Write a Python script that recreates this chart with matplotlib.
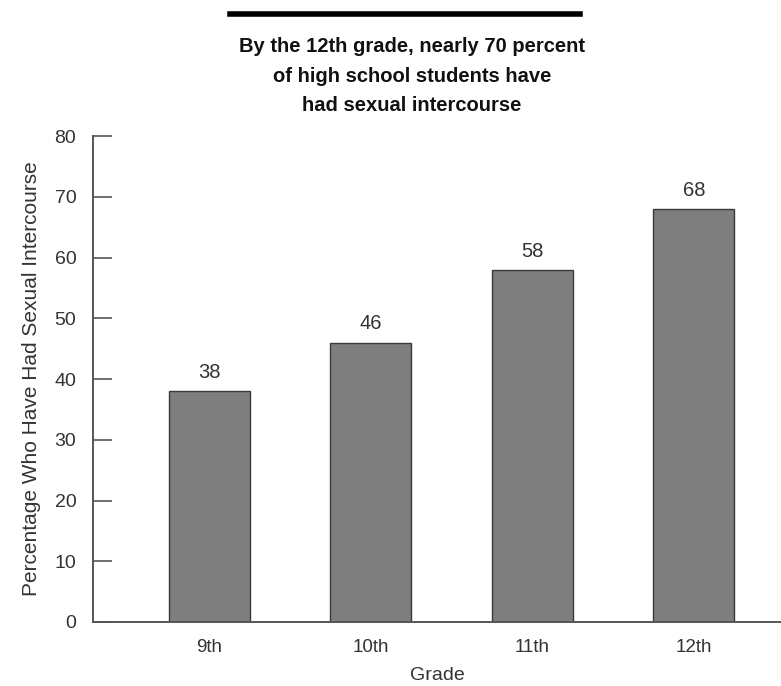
import matplotlib.pyplot as plt
import numpy as np

grades = ['9th', '10th', '11th', '12th']
percent = [38, 46, 58, 68]
yticks = [0, 10, 20, 30, 40, 50, 60, 70, 80]

plt.rcParams['font.family'] = ['Liberation Sans', 'DejaVu Sans']

fig = plt.figure(figsize=(7.81, 6.86), dpi=100)
ax = fig.add_axes([0.119, 0.0933, 0.881, 0.7084])

x = np.arange(len(grades))
ax.bar(x, percent, width=0.5, color='#7e7e7e', edgecolor='#3a3a3a', linewidth=1.0)
for xi, v in zip(x, percent):
    ax.text(xi, v + 1.5, str(v), ha='center', va='bottom', fontsize=14.5, color='#333333')

ax.set_xlim(-0.72, 3.54)
ax.set_ylim(0, 80)
ax.set_yticks(yticks)
ax.set_xticks(x)
ax.set_xticklabels(grades, fontsize=13.5, color='#333333')
ax.tick_params(axis='y', direction='in', length=14, width=1.2, color='#555555',
               labelsize=14, labelcolor='#333333', pad=12)
ax.tick_params(axis='x', length=0, pad=12)
for s in ['top', 'right']:
    ax.spines[s].set_visible(False)
for s in ['left', 'bottom']:
    ax.spines[s].set_color('#555555')
    ax.spines[s].set_linewidth(1.4)

ax.set_xlabel('Grade', fontsize=14, color='#333333', labelpad=8)
ax.set_ylabel('Percentage Who Have Had Sexual Intercourse', fontsize=15, color='#333333', labelpad=10)

# heading with rule above it
fig.add_artist(plt.Line2D([230 / 781, 580 / 781], [1 - 14 / 686, 1 - 14 / 686],
                          color='black', linewidth=4))
fig.text(412 / 781, 1 - 76 / 686,
         'By the 12th grade, nearly 70 percent\nof high school students have\nhad sexual intercourse',
         ha='center', va='center', fontsize=14.5, fontweight='bold', linespacing=1.7,
         color='#111111')

fig.savefig('out.png', dpi=100)
